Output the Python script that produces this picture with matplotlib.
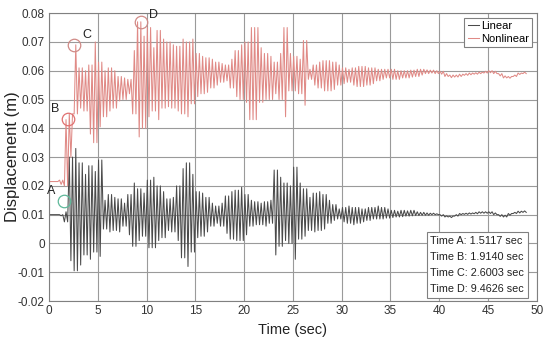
import numpy as np
import matplotlib.pyplot as plt

plt.rcParams['font.family'] = ['Liberation Sans', 'DejaVu Sans']

# envelope of the response, read per 0.5 s bin (units of 1e-3 m)
bin_step = 0.5
lin_hi = [10.0, 10.0, 10.0, 11.0, 30.0, 33.0, 28.0, 24.0, 27.0, 25.0,
          29.0, 15.0, 17.0, 16.0, 15.5, 14.0, 17.0, 21.0, 19.0, 17.5,
          22.0, 23.0, 20.0, 18.0, 15.5, 16.0, 20.0, 26.0, 28.0, 24.0,
          18.0, 17.5, 16.0, 14.0, 13.0, 14.0, 16.5, 18.0, 18.5, 19.5,
          17.0, 15.0, 14.5, 14.0, 14.5, 15.0, 25.5, 23.0, 21.0, 20.0,
          26.5, 21.0, 19.0, 16.0, 17.5, 18.0, 17.0, 15.0, 13.5, 12.0,
          12.5, 13.0, 12.5, 12.5, 12.0, 12.5, 12.5, 13.0, 12.5, 12.0,
          11.5, 11.2, 11.5, 11.3, 11.5, 11.0, 10.8, 10.6, 10.5, 10.3,
          10.0, 9.6, 9.5, 10.0, 10.4, 10.5, 10.6, 10.8, 11.0, 11.0,
          11.0, 10.6, 10.0, 9.8, 10.4, 10.8, 11.2, 11.3]
lin_lo = [10.0, 10.0, 9.6, 7.5, -6.0, -9.5, -7.5, -4.0, -5.5, -3.0,
          -4.5, 5.0, 4.0, 4.5, 4.0, 6.0, 3.0, -1.0, 1.0, 2.5,
          -1.5, -1.5, 1.0, 2.0, 4.5, 4.0, 1.0, -5.0, -8.0, -3.0,
          2.0, 2.5, 4.0, 6.0, 7.0, 6.0, 3.5, 1.5, 1.0, 1.0,
          3.0, 6.0, 6.5, 6.5, 6.0, 7.0, -4.0, -1.0, 1.0, 0.0,
          -5.5, 1.5, 2.5, 4.5, 4.0, 4.5, 5.0, 7.0, 8.0, 8.5,
          7.5, 7.0, 6.5, 7.0, 7.5, 8.0, 8.5, 8.5, 8.5, 8.8,
          9.0, 9.2, 9.3, 9.5, 9.6, 9.7, 9.8, 9.8, 10.0, 10.0,
          9.5, 9.2, 9.0, 9.5, 10.0, 10.1, 10.2, 10.3, 10.5, 10.5,
          10.4, 10.0, 9.4, 9.2, 9.8, 10.4, 10.6, 10.8]
non_hi = [21.5, 21.5, 22.0, 43.0, 45.0, 69.0, 61.0, 60.0, 62.0, 70.0,
          63.0, 60.0, 61.0, 60.0, 58.0, 57.5, 57.0, 67.0, 77.0, 72.0,
          75.0, 68.0, 74.0, 71.0, 70.0, 69.0, 68.5, 71.0, 70.0, 71.0,
          66.0, 65.0, 64.5, 64.0, 63.0, 62.5, 62.0, 64.0, 67.0, 69.0,
          70.0, 75.0, 75.0, 68.0, 66.0, 65.0, 63.0, 66.0, 75.0, 66.0,
          65.0, 64.0, 70.5, 60.5, 62.0, 63.0, 63.5, 63.5, 63.0, 62.0,
          61.0, 60.5, 61.0, 61.5, 61.5, 61.0, 61.0, 60.5, 60.5, 60.5,
          60.5, 60.0, 60.0, 60.0, 60.2, 60.5, 60.5, 60.3, 60.2, 60.0,
          59.8, 59.0, 58.5, 58.5, 58.8, 59.0, 59.2, 59.3, 59.5, 59.8,
          60.0, 59.8, 59.0, 58.2, 58.0, 58.5, 59.2, 59.5]
non_lo = [21.5, 21.5, 20.5, 20.0, 30.0, 45.0, 47.0, 46.0, 38.0, 35.0,
          40.5, 44.0, 46.0, 47.0, 49.5, 50.0, 52.0, 45.0, 37.0, 40.0,
          44.0, 46.0, 43.0, 47.0, 47.5, 47.0, 46.0, 45.0, 44.0, 48.5,
          51.0, 52.0, 52.5, 54.0, 55.0, 56.0, 56.5, 54.0, 51.0, 50.0,
          49.0, 43.0, 43.0, 49.0, 50.0, 50.0, 52.0, 50.0, 44.0, 53.0,
          53.0, 52.0, 48.0, 57.0, 55.0, 54.0, 53.0, 53.0, 53.5, 55.0,
          55.5, 56.0, 55.0, 54.5, 54.5, 55.0, 55.5, 56.5, 57.0, 57.5,
          57.0, 57.0, 57.5, 57.5, 57.8, 58.0, 58.5, 59.0, 59.2, 59.0,
          58.8, 58.0, 57.6, 57.8, 58.0, 58.4, 58.6, 58.8, 59.0, 59.2,
          59.3, 59.0, 58.2, 57.5, 57.4, 58.0, 58.7, 59.0]

# marked points
mark_names = ['A', 'B', 'C', 'D']
mark_t = [1.5117, 1.9140, 2.6003, 9.4626]
mark_v = [0.0148, 0.0432, 0.0691, 0.0770]


def zigzag(hi, lo, per_bin=3):
    t, v = [0.0], [lo[0] * 1e-3]
    for k in range(len(hi)):
        for i in range(per_bin):
            j = k * per_bin + i
            t.append(k * bin_step + (i + 0.5) * bin_step / per_bin)
            v.append((hi[k] if j % 2 == 0 else lo[k]) * 1e-3)
    return np.array(t), np.array(v)


t_lin, v_lin = zigzag(lin_hi, lin_lo)
t_non, v_non = zigzag(non_hi, non_lo)

fig = plt.figure(figsize=(5.5, 3.46), dpi=100)
ax = fig.add_axes([0.089, 0.130, 0.887, 0.832])

ax.plot(t_lin, v_lin, color='#4a4a4a', lw=0.75, label='Linear')
ax.plot(t_non, v_non, color='#e08a86', lw=0.75, label='Nonlinear')

circle_cols = ['#5fb89a', '#e07070', '#d08a86', '#d08a86']
offsets = [(-9, 7), (-9, 7), (9, 7), (9, 5)]
for name, t, v, c, off in zip(mark_names, mark_t, mark_v, circle_cols, offsets):
    ax.plot(t, v, 'o', ms=9, mfc='none', mec=c, mew=0.9)
    ax.annotate(name, (t, v), xytext=off, textcoords='offset points',
                ha='center', va='center', fontsize=9, color='#222222')

ax.set_xlim(0, 50)
ax.set_ylim(-0.02, 0.08)
ax.set_xticks(np.arange(0, 51, 5))
ax.set_yticks(np.arange(-0.02, 0.081, 0.01))
ax.set_yticklabels(['-0.02', '-0.01', '0', '0.01', '0.02', '0.03', '0.04',
                    '0.05', '0.06', '0.07', '0.08'])
ax.grid(True, color='#9a9a9a', lw=0.8)
ax.tick_params(length=0, labelsize=8.5, colors='#333333', pad=3)
for s in ax.spines.values():
    s.set_color('#808080')
    s.set_linewidth(0.8)

ax.set_xlabel('Time (sec)', fontsize=10.5, color='#222222', labelpad=4)
ax.set_ylabel('Displacement (m)', fontsize=12, color='#222222')
ax.yaxis.set_label_coords(-0.06, 0.5)

leg = ax.legend(loc='upper right', fontsize=8, fancybox=False,
                edgecolor='#808080', framealpha=1, handlelength=1.0,
                handletextpad=0.2, borderpad=0.3, labelspacing=0.25,
                borderaxespad=0.4)
leg.get_frame().set_linewidth(0.8)

info = '\n'.join(f'Time {n}: {t:.4f} sec' for n, t in zip(mark_names, mark_t))
ax.text(0.782, 0.025, info, transform=ax.transAxes, fontsize=7.8,
        linespacing=1.75, va='bottom', ha='left', color='#222222',
        bbox=dict(boxstyle='square,pad=0.35', fc='white', ec='#808080', lw=0.8))

fig.savefig('out.png', dpi=100)
